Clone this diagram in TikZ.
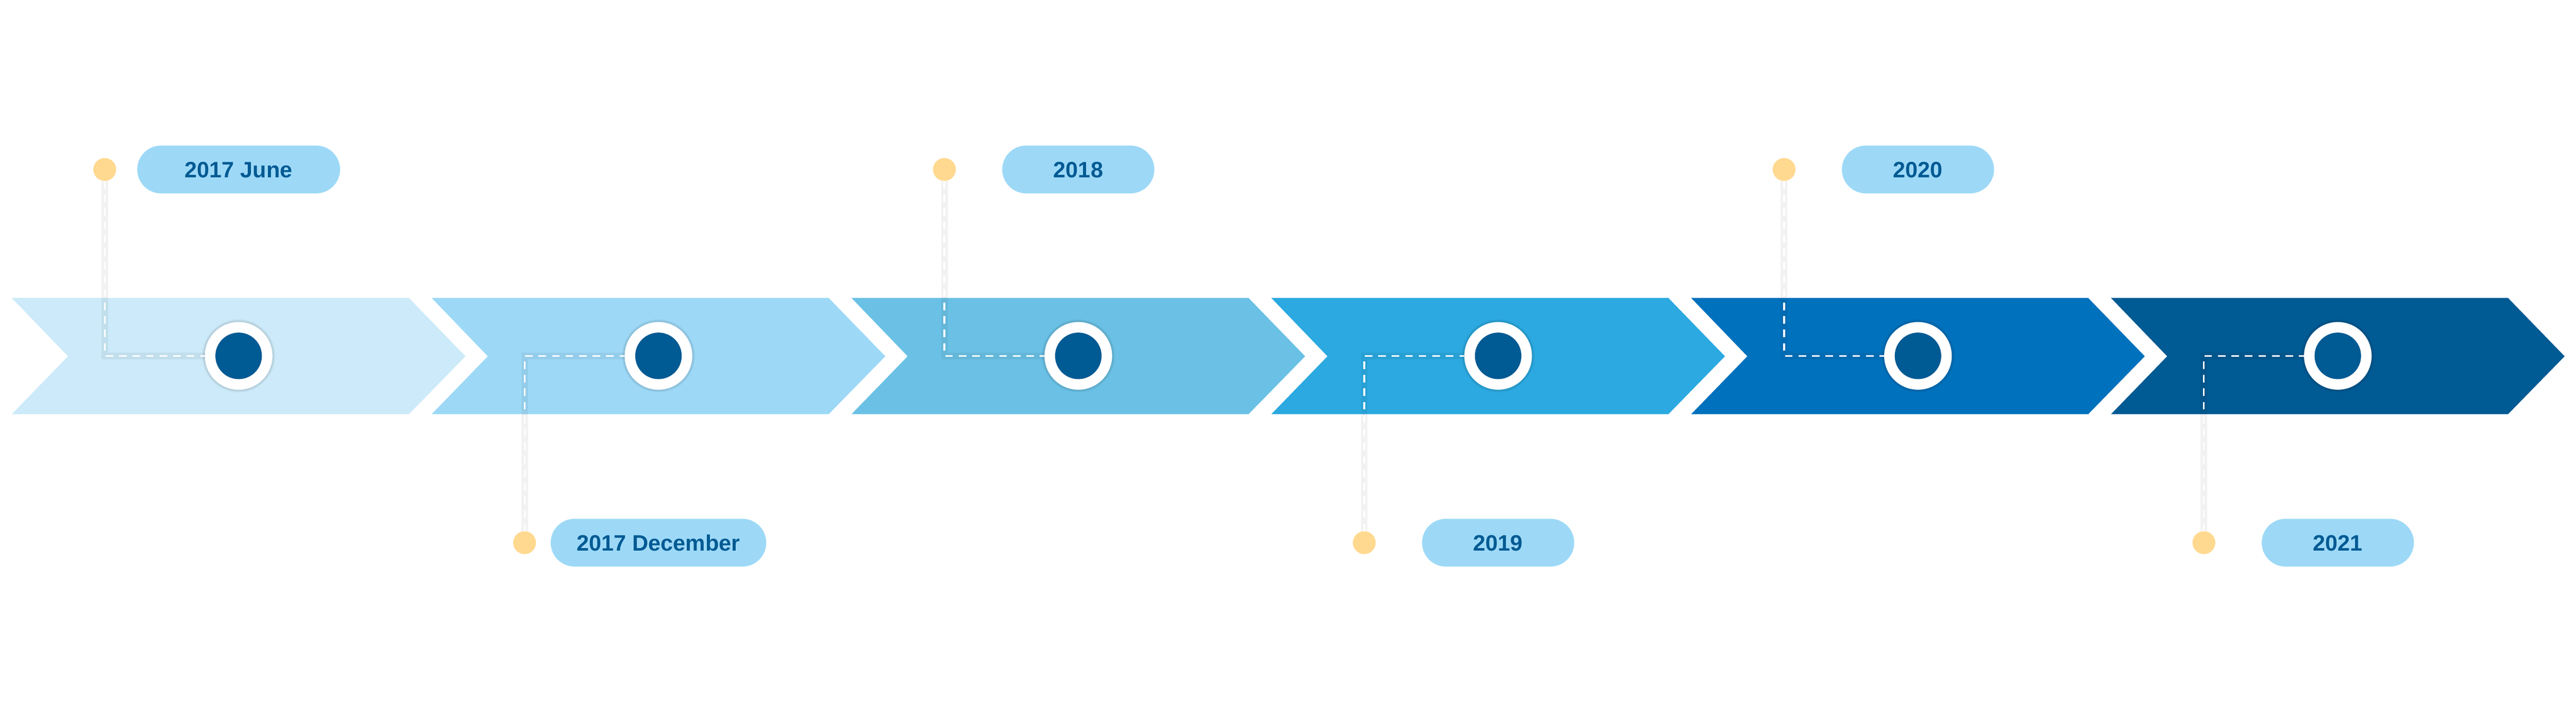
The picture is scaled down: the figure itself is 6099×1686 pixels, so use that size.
\documentclass[tikz,border=0pt]{standalone}
\usepackage{fontspec}
\setmainfont{Liberation Sans}
\definecolor{a1}{HTML}{CCEAF9}
\definecolor{a2}{HTML}{9DD9F7}
\definecolor{a3}{HTML}{6AC1E5}
\definecolor{a4}{HTML}{2BA9E0}
\definecolor{a5}{HTML}{0071BC}
\definecolor{a6}{HTML}{005A93}
\definecolor{navy}{HTML}{005A93}
\definecolor{pillc}{HTML}{9DD9F7}
\definecolor{dotc}{HTML}{FFD990}
\begin{document}
\begin{tikzpicture}[x=0.01cm,y=-0.01cm,
  pill/.style={fill=pillc, rounded corners=0.565cm, minimum height=1.13cm, inner sep=0pt,
    text=navy, text height=10.7pt, text depth=0pt, font=\bfseries\fontsize{15}{18}\selectfont},
  dotm/.style={circle, fill=dotc, minimum size=0.54cm, inner sep=0pt, outer sep=0pt},
  ring/.style={circle, fill=white, minimum size=1.6cm, inner sep=0pt, outer sep=0pt},
  core/.style={circle, fill=navy, minimum size=1.1cm, inner sep=0pt},
  lead/.style={white, line width=1.15pt, dash pattern=on 5.1pt off 4pt},
  leadshadow/.style={black, opacity=0.05, line width=4.5pt}]
\useasboundingbox (0,0) rectangle (6099,1686);
\fill[white] (0,0) rectangle (6099,1686);
% arrows
\foreach \i/\col in {0/a1,1/a2,2/a3,3/a4,4/a5,5/a6}{
  \fill[\col] ({28+994*\i},705) -- ++(940,0) -- ++(134,138) -- ++(-134,137)
     -- ++(-940,0) -- ++(133,-137) -- cycle;
}
% milestones
\foreach \i/\txt/\w/\py in {0/2017 June/4.8/401, 1/2017 December/5.1/1284,
    2/2018/3.6/401, 3/2019/3.6/1284, 4/2020/3.6/401, 5/2021/3.6/1284}{
  \fill[black,opacity=0.06] ({565+994*\i},842) circle (0.86cm);
  \fill[black,opacity=0.06] ({565+994*\i},842) circle (0.83cm);
  \node[ring] (c\i) at ({565+994*\i},842) {};
  \node[core] (k\i) at (c\i) {};
  \node[dotm] (d\i) at ({248+994*\i},\py) {};
  \node[pill, minimum width=\w cm] (p\i) at ({565+994*\i},\py) {\txt};
  \draw[leadshadow] (d\i) |- (c\i);
  \draw[lead] (d\i) |- (c\i);
}
\end{tikzpicture}
\end{document}
